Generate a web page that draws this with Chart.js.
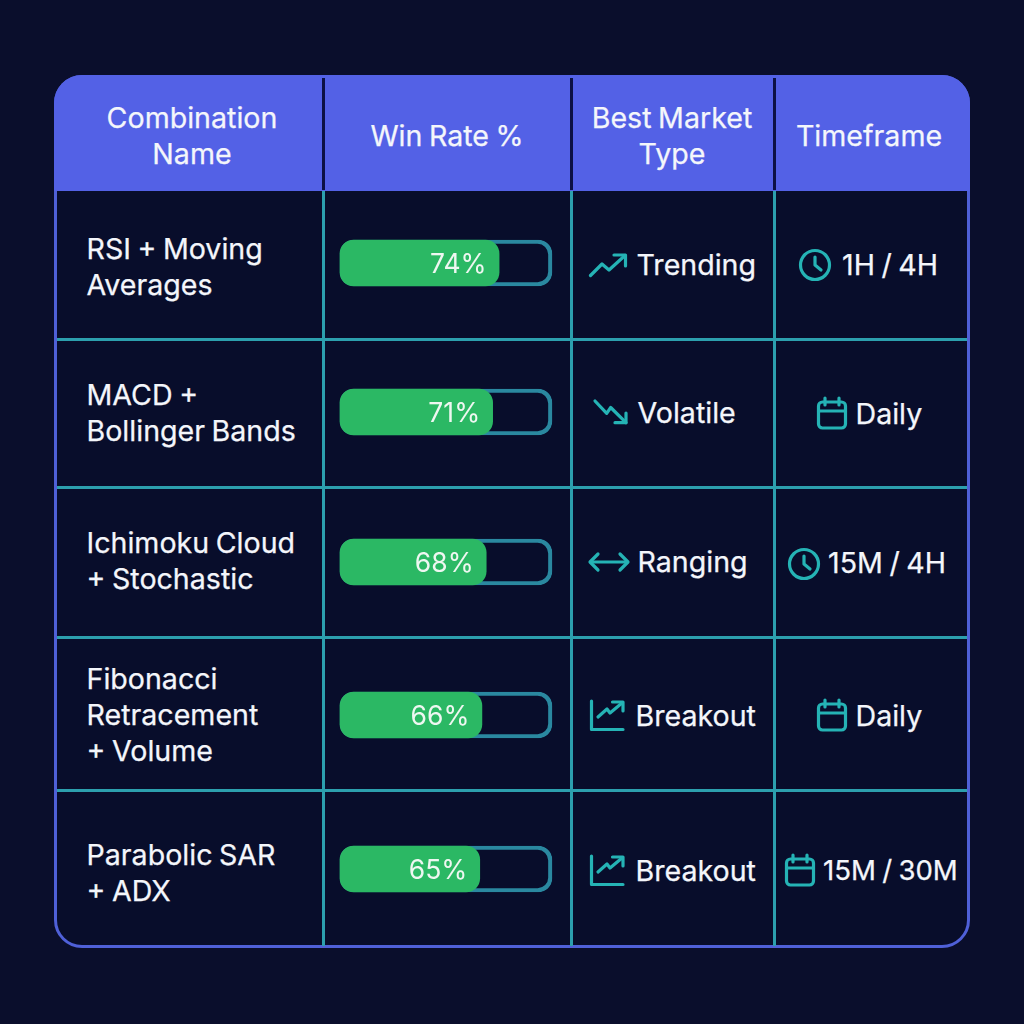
<!DOCTYPE html>
<html><head><meta charset="utf-8">
<script src="https://cdn.jsdelivr.net/npm/chart.js@4"></script>
<style>
html,body{margin:0;padding:0;width:1024px;height:1024px;overflow:hidden;background:#0a0e2c;font-family:Inter,sans-serif}
#stage{position:absolute;left:0;top:0;width:1024px;height:1024px}
.abs{position:absolute}
.txt{position:absolute;color:#f4f6fb;font-size:28.6px;line-height:36px;word-spacing:-1.5px;white-space:pre-line;transform:translateY(-50%);font-weight:400;-webkit-text-stroke:0.25px #f4f6fb}
.ctr{text-align:center;transform:translate(-50%,-50%);white-space:pre}
svg{position:absolute;overflow:visible;fill:none;stroke:#25b3b5;stroke-width:3.2;stroke-linecap:round;stroke-linejoin:round}
canvas{display:block}
</style></head><body><div id="stage"></div>
<script>
// ---- data ----
const headers = ["Combination\nName", "Win Rate %", "Best Market\nType", "Timeframe"];
const categories = ["RSI + Moving\nAverages", "MACD +\nBollinger Bands", "Ichimoku Cloud\n+ Stochastic", "Fibonacci\nRetracement\n+ Volume", "Parabolic SAR\n+ ADX"];
const winRates = [74, 71, 68, 66, 65];
const marketTypes = ["Trending", "Volatile", "Ranging", "Breakout", "Breakout"];
const marketIcons = ["up", "down", "range", "chart", "chart"];
const timeframes = ["1H / 4H", "Daily", "15M / 4H", "Daily", "15M / 30M"];
const timeIcons = ["clock", "cal", "clock", "cal", "cal"];
const trackEnd = 98.6; // right end of the track on the percent scale

// ---- layout ----
const colX = [323, 571, 774];
const rowY = [339, 487, 637, 790];
const headerCx = [192, 447, 672, 869];
const textCy = [267, 413, 561, 714.5, 872.5];
const barCy = [263, 412, 562, 715, 869];
const marketCy = [265, 413, 562, 716, 871];
const timeCy = [265, 414, 563, 716, 870];
const marketIconXY = [[589,253],[594,400],[589,552],[590,700],[590,855]];
const marketTextX = [636.5, 637.5, 637.5, 635.5, 635.5];
const timeIconXY = [[799,249],[817,397],[788,548],[817,699],[785,854]];
const timeTextX = [842, 855.5, 828, 855.5, 823];
const timeFont = [28.6, 28.6, 28.6, 28.6, 27.6];
const stage = document.getElementById('stage');

function box(css){const d=document.createElement('div');d.className='abs';d.style.cssText+=css;stage.appendChild(d);return d;}
function text(s,x,y,center){const d=document.createElement('div');d.className='txt'+(center?' ctr':'');d.textContent=s;d.style.left=x+'px';d.style.top=y+'px';stage.appendChild(d);return d;}

const icons = {
  up:'<polyline points="1.5,22.5 13,11 20,17 36,2.5"/><polyline points="25,2 36.5,2 36.5,13"/>',
  down:'<polyline points="1,1 12.7,13.3 16.7,7.5 32,22.7"/><polyline points="21,22.7 32,22.7 32,13"/>',
  range:'<line x1="2" y1="10" x2="38" y2="10"/><polyline points="9,2 1,10 9,18"/><polyline points="31,2 39,10 31,18"/>',
  chart:'<polyline points="1.5,1 1.5,29.5 33,29.5"/><polyline points="8,17 17,9 20,13 32,3"/><polyline points="22.5,2 33,2 33,11"/>',
  cal:'<rect x="1.5" y="5" width="27" height="26" rx="4"/><line x1="1.5" y1="14" x2="28.5" y2="14"/><line x1="8" y1="1" x2="8" y2="8"/><line x1="22" y1="1" x2="22" y2="8"/>',
  clock:'<circle cx="16" cy="16" r="14.5"/><polyline points="16,8 16,16 22,21"/>'
};
function icon(name,x,y){
  const s=document.createElementNS('http://www.w3.org/2000/svg','svg');
  s.setAttribute('width',40);s.setAttribute('height',34);s.setAttribute('viewBox','0 0 40 34');
  s.style.left=x+'px';s.style.top=y+'px';s.innerHTML=icons[name];stage.appendChild(s);
}

// card
box('left:54px;top:75px;width:916px;height:873px;box-sizing:border-box;background:#080d2b;border:3px solid #4f60d8;border-radius:28px');
box('left:54px;top:75px;width:916px;height:115.5px;background:#5361e6;border-radius:28px 28px 0 0');
colX.forEach(x=>{
  box(`left:${x-1}px;top:78px;width:2.5px;height:112px;background:#0c1145`);
  box(`left:${x-1}px;top:190.5px;width:2.5px;height:755px;background:#2c9fae`);
});
rowY.forEach(y=>box(`left:57px;top:${y-1}px;width:910px;height:2.5px;background:#2c9fae`));

headers.forEach((h,i)=>text(h,headerCx[i],136,true));
categories.forEach((c,i)=>text(c,86.5,textCy[i]));
marketTypes.forEach((m,i)=>{text(m,marketTextX[i],marketCy[i]);icon(marketIcons[i],marketIconXY[i][0],marketIconXY[i][1]);});
timeframes.forEach((t,i)=>{text(t,timeTextX[i],timeCy[i]).style.fontSize=timeFont[i]+'px';icon(timeIcons[i],timeIconXY[i][0],timeIconXY[i][1]);});

// value label drawn from the bar's own element position
const valueLabel = {
  id:'valueLabel',
  afterDatasetsDraw(chart){
    const meta=chart.getDatasetMeta(0), ctx=chart.ctx;
    meta.data.forEach((el,i)=>{
      ctx.save();
      ctx.font='400 26.5px Inter, sans-serif';ctx.fillStyle='#eef7f1';
      ctx.textAlign='right';ctx.textBaseline='middle';
      ctx.fillText(chart.data.datasets[0].data[i]+'%',el.x-12.5,el.y+2);
      ctx.restore();
    });
  }
};

winRates.forEach((v,i)=>{
  const cv=document.createElement('canvas');
  cv.width=220;cv.height=54;
  cv.style.cssText=`position:absolute;left:336px;top:${barCy[i]-27}px;width:220px;height:54px`;
  stage.appendChild(cv);
  new Chart(cv,{
    type:'bar',
    data:{labels:[categories[i].replace(/\n/g,' ')],datasets:[
      {label:'Win Rate %',data:[v],backgroundColor:'#2bb864',borderRadius:14,borderSkipped:false,order:0,clip:false},
      {label:'Track',data:[trackEnd],backgroundColor:'rgba(0,0,0,0)',borderColor:'#2a88a0',borderWidth:3.5,borderRadius:14,borderSkipped:false,order:1,clip:false}
    ]},
    options:{
      indexAxis:'y',responsive:false,animation:false,
      layout:{padding:4},
      datasets:{bar:{grouped:false,barPercentage:1,categoryPercentage:1}},
      plugins:{legend:{display:false},tooltip:{enabled:false}},
      scales:{
        x:{display:false,min:0,max:trackEnd},
        y:{display:false}
      }
    },
    plugins:[valueLabel]
  });
});
</script></body></html>
